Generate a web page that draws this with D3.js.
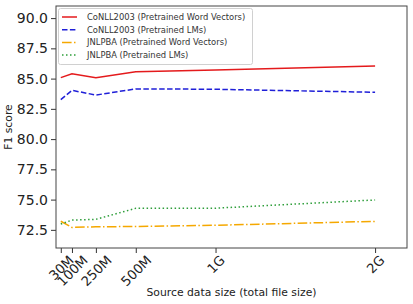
<!DOCTYPE html>
<html>
<head>
<meta charset="utf-8">
<script src="https://cdn.jsdelivr.net/npm/d3@7"></script>
<style>
  html, body { margin: 0; padding: 0; background: #fff; }
  svg { display: block; font-family: "DejaVu Sans", sans-serif; }
</style>
</head>
<body>
<svg id="chart" width="413" height="304"></svg>
<script>
// ---- data ----
const sizesMB = [30, 100, 250, 500, 1000, 2000];
const xTickLabels = ["30M", "100M", "250M", "500M", "1G", "2G"];
const conllWordVectors = [85.08, 85.40, 85.07, 85.57, 85.72, 86.04];
const conllLMs = [83.26, 84.03, 83.64, 84.15, 84.12, 83.87];
const jnlpbaWordVectors = [73.21, 72.70, 72.75, 72.78, 72.88, 73.20];
const jnlpbaLMs = [72.98, 73.31, 73.37, 74.28, 74.29, 74.97];
const yTicks = [72.5, 75.0, 77.5, 80.0, 82.5, 85.0, 87.5, 90.0];
const seriesNames = [
  "CoNLL2003 (Pretrained Word Vectors)",
  "CoNLL2003 (Pretrained LMs)",
  "JNLPBA (Pretrained Word Vectors)",
  "JNLPBA (Pretrained LMs)"
];

const series = [
  { name: seriesNames[0], values: conllWordVectors, color: "#e41a1c", dash: null },
  { name: seriesNames[1], values: conllLMs, color: "#1f1fd8", dash: "5.5,2.4" },
  { name: seriesNames[2], values: jnlpbaWordVectors, color: "#f5a800", dash: "9.6,2.4,1.5,2.4" },
  { name: seriesNames[3], values: jnlpbaLMs, color: "#2e9e3a", dash: "1.5,2.5" }
];

const svg = d3.select("#chart");
const m = { left: 56, right: 407, top: 6, bottom: 248 };

const x = d3.scaleLinear().domain([0, 2200]).range([m.left, m.right]);
const y = d3.scaleLinear().domain([71, 91]).range([m.bottom, m.top]);

// lines
const line = d3.line().x((d, i) => x(sizesMB[i])).y(d => y(d));
series.forEach(s => {
  svg.append("path")
    .attr("d", line(s.values))
    .attr("fill", "none")
    .attr("stroke", s.color)
    .attr("stroke-width", 1.5)
    .attr("stroke-dasharray", s.dash);
});

// axes
const yAxis = d3.axisLeft(y).tickValues(yTicks).tickFormat(d3.format(".1f")).tickSize(5).tickPadding(3);
const gy = svg.append("g").attr("transform", `translate(${m.left},0)`).call(yAxis);
gy.select(".domain").remove();
gy.selectAll("text").attr("font-size", 14).attr("fill", "#222").attr("font-family", "DejaVu Sans");
gy.selectAll("line").attr("stroke", "#333");

const xAxis = d3.axisBottom(x).tickValues(sizesMB).tickFormat((d, i) => xTickLabels[i]).tickSize(5);
const gx = svg.append("g").attr("transform", `translate(0,${m.bottom})`).call(xAxis);
gx.select(".domain").remove();
gx.selectAll("line").attr("stroke", "#333");
gx.selectAll("text").each(function() {
  const t = d3.select(this);
  t.attr("font-size", 13.2).attr("fill", "#222").attr("font-family", "DejaVu Sans")
   .attr("text-anchor", "middle").attr("dy", null).attr("y", 0)
   .attr("dominant-baseline", "central");
  const w = this.getComputedTextLength();
  const h = 13.2 * 1.05;
  const cy = 5 + (w + h) * 0.7071 / 2;
  t.attr("transform", `translate(0,${cy}) rotate(-45)`);
});

// frame
svg.append("rect")
  .attr("x", m.left).attr("y", m.top)
  .attr("width", m.right - m.left).attr("height", m.bottom - m.top)
  .attr("fill", "none").attr("stroke", "#444").attr("stroke-width", 1);

// axis labels
svg.append("text")
  .attr("x", (m.left + m.right) / 2).attr("y", 296)
  .attr("text-anchor", "middle").attr("font-size", 10.8).attr("fill", "#222")
  .text("Source data size (total file size)");
svg.append("text")
  .attr("transform", `translate(12,${(m.top + m.bottom) / 2}) rotate(-90)`)
  .attr("text-anchor", "middle").attr("font-size", 10.8).attr("fill", "#222")
  .text("F1 score");

// legend
const lg = svg.append("g");
lg.append("rect")
  .attr("x", 58.5).attr("y", 8.5).attr("width", 194).attr("height", 56)
  .attr("rx", 2).attr("fill", "#fff").attr("fill-opacity", 0.8)
  .attr("stroke", "#d0d0d0").attr("stroke-width", 1);
series.forEach((s, i) => {
  const yy = 17 + i * 12.7;
  lg.append("line")
    .attr("x1", 62).attr("x2", 77).attr("y1", yy).attr("y2", yy)
    .attr("stroke", s.color).attr("stroke-width", 1.5)
    .attr("stroke-dasharray", s.dash);
  lg.append("text")
    .attr("x", 87).attr("y", yy).attr("dy", "0.35em")
    .attr("font-size", 8.4).attr("fill", "#333")
    .text(s.name);
});
</script>
</body>
</html>
